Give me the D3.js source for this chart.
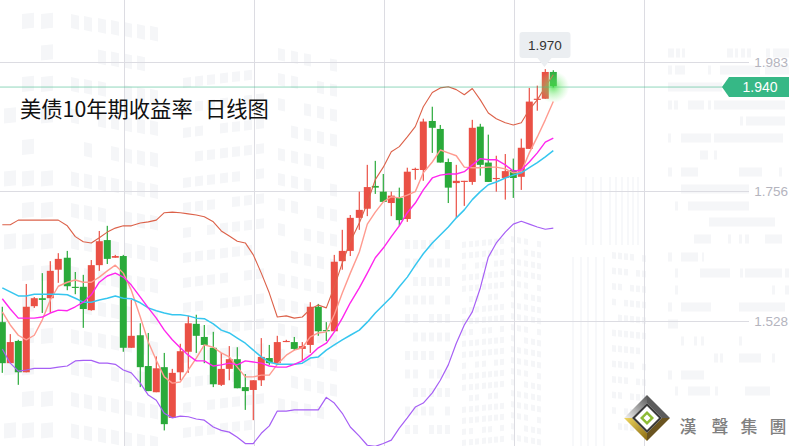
<!DOCTYPE html>
<html><head><meta charset="utf-8">
<style>html,body{margin:0;padding:0;background:#fff;overflow:hidden}svg{display:block}</style>
<script src="https://cdn.jsdelivr.net/npm/d3@7"></script>
</head><body><svg id="c" width="789" height="446"></svg>
<script>
const titleText = "美债10年期收益率";
const titleText2 = "日线图";
const priceTicks = [1.983, 1.756, 1.528];
const tickLabels = ["1.983", "1.756", "1.528"];
const lastPriceLine = 1.9385, lastLabel = "1.940";
const peakValue = 1.970, peakLabel = "1.970";
const brandChars = ["漢","聲","集","團"];
const opens = [1.526,1.454,1.493,1.438,1.554,1.568,1.568,1.618,1.639,1.588,1.588,1.547,1.626,1.670,1.639,1.642,1.481,1.503,1.449,1.403,1.447,1.358,1.438,1.474,1.523,
1.500,1.481,1.416,1.444,1.461,1.412,1.407,1.424,1.463,1.454,1.491,1.491,1.479,1.486,1.553,1.512,1.510,1.633,1.651,1.709,1.725,1.765,1.755,1.735,1.744,1.707,1.793,1.793,1.879,1.865,1.807,1.770,1.772,1.772,1.869,1.806,1.777,1.779,1.793,1.781,1.830,1.916,1.918,1.965];
const closes = [1.454,1.491,1.438,1.553,1.568,1.565,1.616,1.637,1.589,1.586,1.549,1.626,1.668,1.637,1.642,1.481,1.502,1.447,1.405,1.445,1.347,1.437,1.475,1.524,1.502,
1.486,1.417,1.444,1.461,1.410,1.405,1.424,1.465,1.454,1.491,1.493,1.479,1.484,1.553,1.510,1.510,1.632,1.651,1.709,1.723,1.763,1.762,1.737,1.748,1.705,1.790,1.795,1.878,1.867,1.806,1.762,1.774,1.774,1.867,1.802,1.772,1.779,1.791,1.779,1.832,1.913,1.918,1.965,1.940];
const highs = [1.553,1.505,1.495,1.593,1.570,1.612,1.633,1.647,1.651,1.614,1.609,1.635,1.686,1.695,1.644,1.644,1.565,1.524,1.507,1.466,1.472,1.444,1.488,1.537,1.539,
1.521,1.509,1.472,1.484,1.482,1.435,1.424,1.498,1.486,1.502,1.495,1.500,1.491,1.561,1.558,1.526,1.644,1.688,1.714,1.755,1.802,1.809,1.786,1.755,1.762,1.797,1.797,1.883,1.904,1.872,1.813,1.802,1.774,1.881,1.874,1.855,1.818,1.821,1.813,1.848,1.937,1.941,1.970,1.968];
const lows = [1.437,1.454,1.416,1.438,1.551,1.542,1.542,1.595,1.582,1.575,1.516,1.546,1.616,1.628,1.639,1.474,1.481,1.412,1.405,1.403,1.336,1.358,1.424,1.437,1.472,
1.454,1.412,1.414,1.424,1.410,1.372,1.354,1.414,1.451,1.451,1.491,1.477,1.458,1.472,1.502,1.493,1.510,1.618,1.642,1.688,1.712,1.751,1.737,1.712,1.695,1.702,1.776,1.774,1.823,1.806,1.735,1.709,1.730,1.767,1.783,1.772,1.755,1.741,1.744,1.758,1.830,1.897,1.918,1.938];
const bollUpper = [1.697,1.697,1.705,1.705,1.705,1.705,1.705,1.705,1.695,1.676,1.667,1.665,1.674,1.684,1.691,1.695,1.695,1.700,1.702,1.705,1.718,1.719,1.718,1.716,1.714,1.711,1.702,1.686,1.677,1.668,1.665,1.644,1.612,1.577,1.535,1.537,1.533,1.535,1.549,1.556,1.551,1.588,1.630,1.667,1.700,1.735,1.776,1.798,1.825,1.834,1.851,1.869,1.904,1.929,1.937,1.939,1.934,1.925,1.936,1.916,1.893,1.883,1.876,1.872,1.876,1.899,1.916,1.939,1.960];
const bollLower = [1.479,1.454,1.440,1.442,1.445,1.445,1.445,1.447,1.449,1.458,1.459,1.459,1.454,1.454,1.452,1.442,1.437,1.419,1.398,1.389,1.366,1.358,1.361,1.360,1.356,
1.354,1.342,1.336,1.333,1.324,1.313,1.313,1.331,1.344,1.370,1.370,1.372,1.372,1.372,1.372,1.394,1.384,1.366,1.342,1.326,1.310,1.308,1.313,1.319,1.340,1.358,1.377,1.384,1.402,1.424,1.451,1.489,1.521,1.544,1.586,1.640,1.665,1.684,1.698,1.703,1.698,1.693,1.689,1.691];
const maFast = [1.544,1.521,1.503,1.495,1.503,1.530,1.565,1.589,1.596,1.600,1.596,1.596,1.605,1.616,1.626,1.612,1.582,1.535,1.491,1.459,1.430,1.419,1.421,1.442,1.463,
1.486,1.482,1.472,1.465,1.447,1.430,1.430,1.433,1.433,1.452,1.468,1.477,1.481,1.500,1.507,1.509,1.539,1.577,1.612,1.649,1.698,
1.719,1.737,1.746,1.744,1.749,1.755,1.788,1.807,1.828,1.823,1.818,1.798,1.797,1.797,1.798,1.798,1.795,1.788,1.790,1.823,1.851,1.881,1.913];
const maMid = [1.567,1.549,1.533,1.533,1.533,1.535,1.542,1.547,1.546,1.553,1.561,1.574,1.596,1.607,1.612,1.605,1.591,1.570,1.551,1.533,1.512,1.495,1.481,1.468,1.458,
1.458,1.449,1.451,1.454,1.451,1.458,1.456,1.454,1.449,1.447,1.447,1.452,1.458,1.468,1.481,1.489,1.509,1.533,1.560,1.586,1.612,1.639,1.656,1.676,1.695,1.718,1.735,1.758,1.779,1.784,1.786,1.786,1.790,1.802,1.813,1.811,1.811,1.802,1.791,1.793,1.807,1.823,1.842,1.849];
const maSlow = [1.586,1.579,1.572,1.572,1.575,1.575,1.575,1.575,1.574,1.568,1.561,1.561,1.565,1.568,1.572,1.568,1.567,1.560,1.551,1.546,1.542,1.539,1.539,1.537,1.533,
1.532,1.523,1.512,1.507,1.498,1.489,1.477,1.465,1.456,1.452,1.452,1.452,1.454,1.463,1.465,1.477,1.486,1.495,1.503,1.512,1.526,1.542,1.556,1.570,1.588,1.605,1.626,1.646,1.665,1.679,1.693,1.709,1.723,1.741,1.755,1.767,1.772,1.779,1.784,1.788,1.797,1.806,1.816,1.827];
const vGrid = [124.5,254.5,384.5,514.5,644.5];
// faint backdrop blocks: [row y, x start, x end]
const backdropBars = [[53,668,674],[53,676,680],[53,682,685],[53,727,733],[53,735,738],[53,741,745],[53,747,751],[53,766,770],[53,773,789],
[70,668,672],[70,675,685],[70,708,711],[70,720,760],[70,765,789],[87,668,722],[105,668,672],[105,674,678],[105,688,704],[105,708,711],[105,714,785],[121,740,743],[121,746,785],[138,668,671],[138,681,711],[138,714,783],
[155,700,708],[155,714,717],[172,668,672],[172,681,698],[172,739,762],[172,779,782],[189,681,749],[206,675,678],[206,688,749],[222,709,775],[239,694,711],[239,728,731],[239,739,742],[239,745,749],[239,765,782],
[257,668,672],[257,681,698],[257,702,704],[273,675,678],[273,700,730],[273,740,743],[273,745,782],[273,785,789],[290,675,678],[290,772,775],[290,785,789],[307,668,672],[307,681,711],[307,739,785],[324,668,678],[341,681,684],[341,694,697],[341,701,704],[341,739,742],[358,714,718],[358,720,723],[358,739,761],[358,772,775],[375,668,672],[375,681,704],[391,675,678],[391,688,710],[391,715,718],[391,745,770]];
const backdropLinesA = [586,593,601,610,616,622,628,633,638];
const backdropLinesB = [573,581,588,596,604];

const W=789,H=446;
const svg=d3.select("#c");
const defs=svg.append("defs");
const glow=defs.append("radialGradient").attr("id","glow");
glow.append("stop").attr("offset","0%").attr("stop-color","#3fdc3f").attr("stop-opacity",.75);
glow.append("stop").attr("offset","45%").attr("stop-color","#6be86b").attr("stop-opacity",.4);
glow.append("stop").attr("offset","100%").attr("stop-color","#8ef08e").attr("stop-opacity",0);
const g1=defs.append("linearGradient").attr("id","gold").attr("x1",0).attr("y1",0).attr("x2",1).attr("y2",1);
g1.append("stop").attr("offset","0%").attr("stop-color","#f0d860");
g1.append("stop").attr("offset","100%").attr("stop-color","#8a6a10");
const g2=defs.append("linearGradient").attr("id","silver").attr("x1",0).attr("y1",1).attr("x2",1).attr("y2",0);
g2.append("stop").attr("offset","0%").attr("stop-color","#f4f4f4");
g2.append("stop").attr("offset","100%").attr("stop-color","#5a5a5a");

// backdrop
const bg=svg.append("g").attr("fill","#f5f6f8");
function win(x,y,w,h,s){bg.append("polygon").attr("points",[[x,y],[x+w,y+w*s],[x+w,y+h+w*s],[x,y+h]].join(" "));}
const rowsA=d3.range(0,14).map(k=>14+31.5*k);
const skipA=new Set(["1:0","1:1","1:6","2:3","3:1","4:0","4:2","6:3","9:0","9:5","11:2","11:6"]);
rowsA.forEach((y,k)=>{
  [4,22,41].forEach((x,j)=>{if(!skipA.has(k+":"+j)&&!(k%2==0&&j==0))win(x,y,12,15,-.1);});
  [71,84,98,111,124,137,150].forEach((x,j)=>{if(!skipA.has(k+":"+j))win(x,y+(x-71)*.15,8,14,.22);});
});
d3.range(0,15).forEach(k=>{const y=78+25*k;
  [183,195,207,220,232,244,256].forEach((x,j)=>{if((k*3+j*5)%7!==2&&y-(x-183)*.12<446)win(x,y-(x-183)*.12,8,10,-.12);});
  [278,291,304,317,330].forEach((x,j)=>{if((k+j)%5!==3)win(x,y-30+(x-278)*.2,7,12,.2);});
});
d3.range(0,11).forEach(k=>{const y=240+18.5*k;
  [405,413,421,429,437,445].forEach((x,j)=>{if((k*2+j)%6!==4)win(x,y,5,9,0);});
});
d3.range(0,19).forEach(k=>{const y=238+11*k;
  [462,469,475,482,488,494,500].forEach((x,j)=>{if((k+j*3)%9!==5)win(x,y-(x-462)*.1+4,4,6,-.1);});
  [511,517,524,531,537].forEach((x,j)=>{if((k*2+j)%8!==3)win(x,y-2+(x-511)*.18,4,6,.18);});
});
d3.range(0,12).forEach(k=>{const y=252+15.5*k;
  [612,618,624,630,636,642].forEach((x,j)=>{if((k+j)%7!==4)win(x,y+(x-612)*.1,4,6.5,.1);});
});
bg.selectAll("rect.bar").data(backdropBars).join("rect").attr("x",d=>d[1]).attr("y",d=>d[0]-4.5).attr("width",d=>d[2]-d[1]).attr("height",9);
svg.append("g").selectAll("line").data(backdropLinesA).join("line").attr("x1",d=>d).attr("x2",d=>d).attr("y1",177).attr("y2",245).attr("stroke","#f5f6f8").attr("stroke-width",1.5);
svg.append("g").selectAll("line").data(backdropLinesB).join("line").attr("x1",d=>d).attr("x2",d=>d).attr("y1",257).attr("y2",446).attr("stroke","#f5f6f8").attr("stroke-width",1.5);

// scales
const cats=d3.range(opens.length);
const pitch=8.11;
const x=d3.scaleBand().domain(cats).range([1.7-pitch/2,1.7-pitch/2+pitch*cats.length]);
const cx=i=>Math.round(x(i)+x.bandwidth()/2)+.3;
const y=d3.scaleLinear().domain([1.983,1.528]).range([61.7,321]);

// grid
const grid=svg.append("g").attr("stroke","#dcdce2").attr("stroke-width",1).attr("shape-rendering","crispEdges");
grid.selectAll("line.h").data(priceTicks).join("line").attr("x1",0).attr("x2",749).attr("y1",d=>Math.round(y(d))+.5).attr("y2",d=>Math.round(y(d))+.5);
grid.selectAll("line.v").data(vGrid).join("line").attr("x1",d=>d).attr("x2",d=>d).attr("y1",0).attr("y2",H);

// tick labels
svg.append("g").selectAll("text").data(priceTicks).join("text")
 .attr("x",788).attr("y",d=>y(d)+4.8).attr("text-anchor","end")
 .attr("font-family","Liberation Sans").attr("font-size",13.5).attr("fill","#b4b4be")
 .text((d,i)=>tickLabels[i]);

// candles
const c=svg.append("g");
const up=i=>closes[i]>=opens[i];
const col=i=>up(i)?"#ea5045":"#2aaa3a";
c.selectAll("rect.w").data(cats).join("rect").attr("x",i=>cx(i)-.6).attr("width",1.2)
 .attr("y",i=>y(highs[i])).attr("height",i=>y(lows[i])-y(highs[i])).attr("fill",col);
c.selectAll("rect.b").data(cats).join("rect").attr("x",i=>cx(i)-3.5).attr("width",7)
 .attr("y",i=>y(Math.max(opens[i],closes[i]))).attr("height",i=>Math.max(1,Math.abs(y(opens[i])-y(closes[i])))).attr("fill",col);

// lines
const lineGen=d3.line().x((d,i)=>cx(i)).y(d=>y(d));
[[maFast,"#ff9b90",1.4],[bollUpper,"#dc6149",1.1],[bollLower,"#a65ff5",1.2],[maSlow,"#36c6ef",1.5],[maMid,"#ff26ee",1.4]]
 .forEach(([arr,color,w])=>svg.append("path").attr("d",lineGen(arr)).attr("fill","none").attr("stroke",color).attr("stroke-width",w).attr("stroke-linejoin","round"));

// last price
const ly=y(lastPriceLine);
svg.append("line").attr("x1",0).attr("x2",724).attr("y1",ly).attr("y2",ly).attr("stroke","#36b886").attr("stroke-opacity",.55).attr("stroke-width",1);
svg.append("circle").attr("cx",cx(68)).attr("cy",ly).attr("r",16).attr("fill","url(#glow)");
svg.append("polygon").attr("points",[[722,ly],[729,ly-10],[789,ly-10],[789,ly+10],[729,ly+10]].join(" ")).attr("fill","#36b886");
svg.append("text").attr("x",760).attr("y",ly+5).attr("text-anchor","middle").attr("font-family","Liberation Sans").attr("font-size",14).attr("fill","#fff").text(lastLabel);

// peak tooltip
const px=cx(67)-.3, py=y(peakValue);
const tip=svg.append("g");
tip.append("path").attr("d",`M${px-25.5} 35a3 3 0 0 1 3-3h45a3 3 0 0 1 3 3v20a3 3 0 0 1-3 3h-16l-7 9-7-9h-15a3 3 0 0 1-3-3z`).attr("fill","#ebeef1");
tip.append("text").attr("x",px).attr("y",50).attr("text-anchor","middle").attr("font-family","Liberation Sans").attr("font-size",13.5).attr("fill","#333").text(peakLabel);

// title
const tt=svg.append("text").attr("x",20).attr("y",117).attr("font-family","'Noto Sans CJK SC'").attr("font-size",21.3).attr("font-weight",400).attr("fill","#111");
tt.append("tspan").text(titleText);
tt.append("tspan").attr("x",205).text(titleText2);

// logo
const lg=svg.append("g").attr("transform","translate(647,418)");
const poly=(pts,f)=>lg.append("polygon").attr("points",pts.join(" ")).attr("fill",f);
poly([[-23,0],[0,-23],[0,-15],[-15,0]],"url(#silver)");
poly([[0,-23],[23,0],[15,0],[0,-15]],"#5c5c5c");
poly([[-23,0],[-15,0],[0,15],[0,23]],"url(#gold)");
poly([[23,0],[15,0],[0,15],[0,23]],"#6a5420");
poly([[-15,0],[0,-15],[15,0],[0,15]],"#3a3a3a");
poly([[-12,0],[0,-12],[12,0],[0,12]],"#ffffff");
poly([[-7,0],[0,-7],[7,0],[0,7]],"#8dbb35");
poly([[-3.5,0],[0,-3.5],[3.5,0],[0,3.5]],"#ffffff");
svg.append("g").selectAll("text").data(brandChars).join("text")
 .attr("x",(d,i)=>[688,720,749,778][i]).attr("y",433).attr("text-anchor","middle")
 .attr("font-family","'Noto Sans CJK TC'").attr("font-size",17).attr("font-weight",500).attr("fill","#808080").text(d=>d);
</script></body></html>
